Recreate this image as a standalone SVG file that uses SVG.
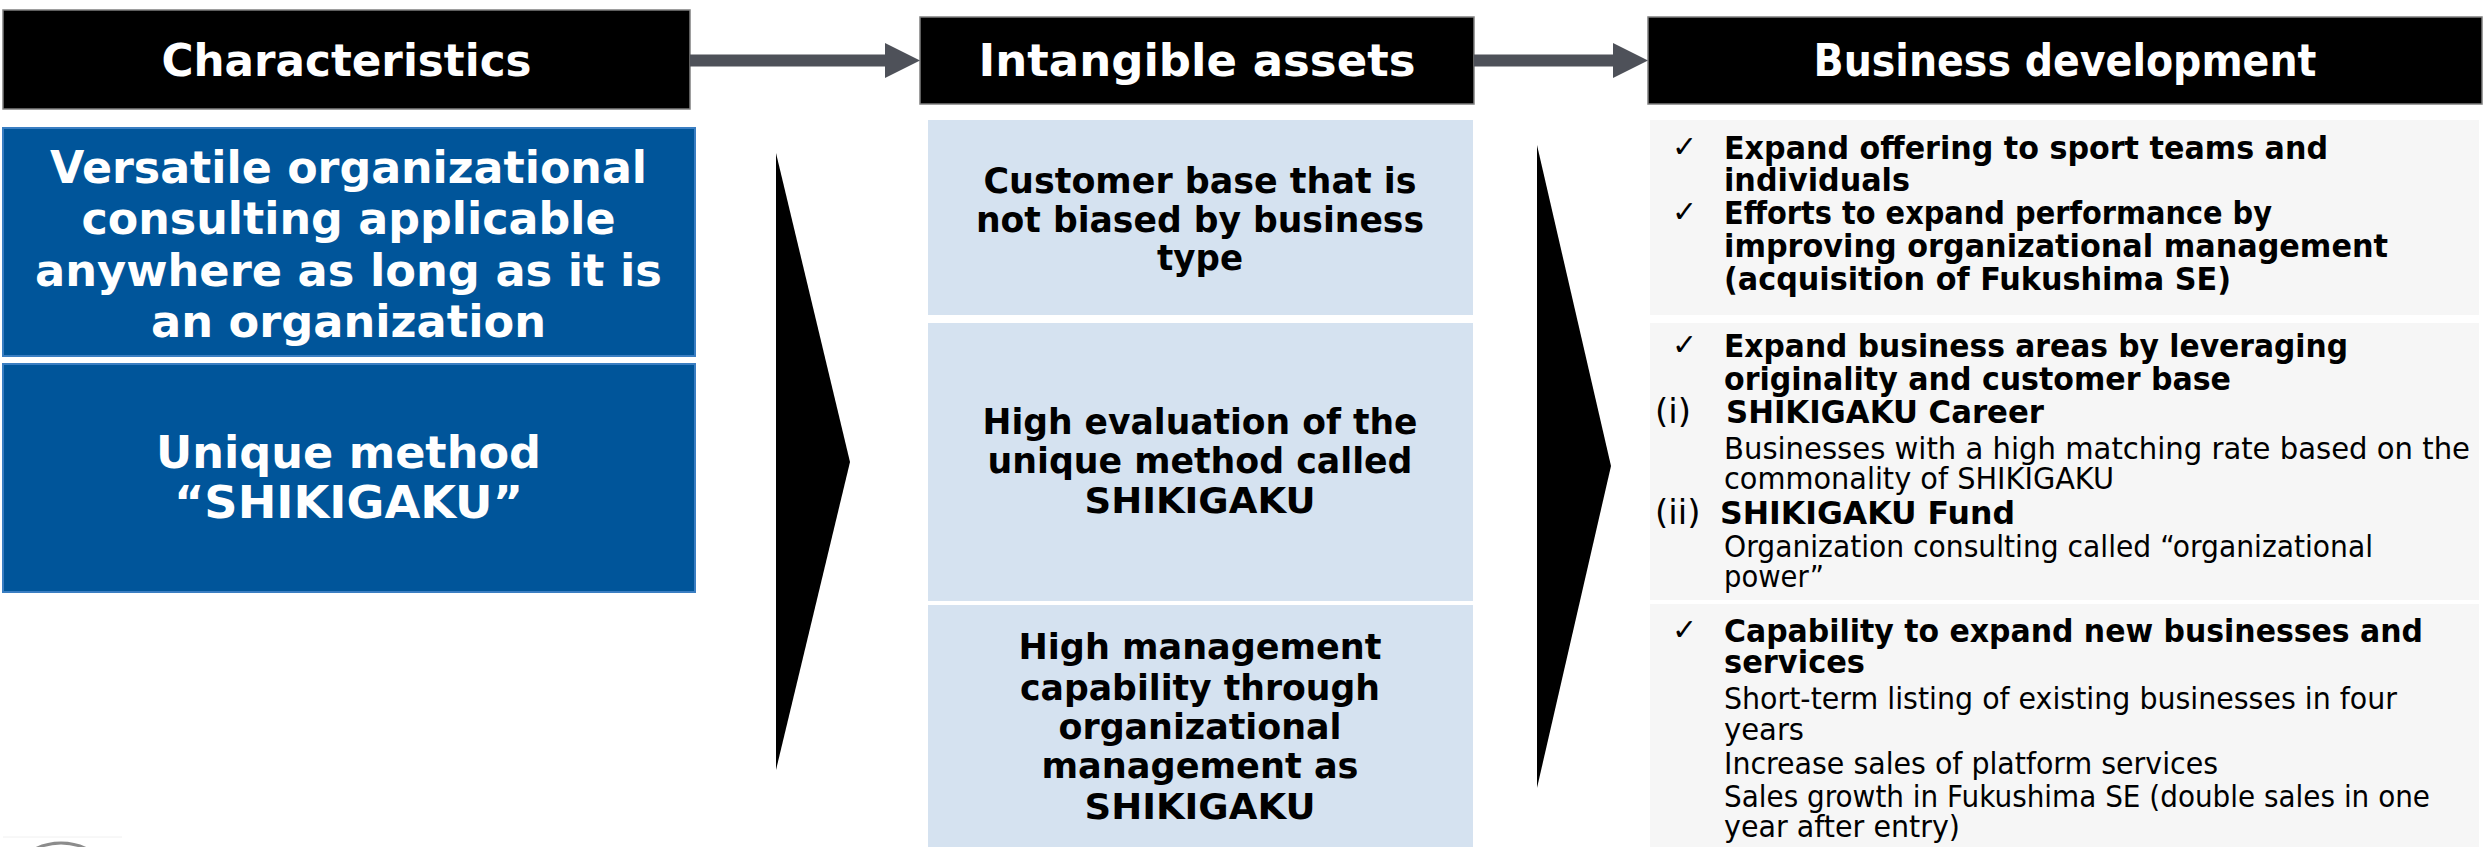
<svg xmlns="http://www.w3.org/2000/svg" width="2488" height="847" viewBox="0 0 2488 847">
<defs>
<style>
text{font-family:"DejaVu Sans",Verdana,"Liberation Sans",sans-serif;}
.hdr{fill:#000;stroke:#7f7f7f;stroke-width:1.5;}
.ht{fill:#fff;font-weight:bold;font-size:44px;text-anchor:middle;}
.blue{fill:#00559A;stroke:#3A7EC2;stroke-width:2;}
.bt{fill:#fff;font-weight:bold;font-size:45px;text-anchor:middle;}
.lb{fill:#D5E2F0;}
.it{fill:#000;font-weight:bold;font-size:35px;text-anchor:middle;}
.gp{fill:#F6F6F6;}
.pb{fill:#000;font-weight:bold;font-size:32px;}
.pr{fill:#000;font-size:31px;}
.pn{fill:#000;font-size:34px;}
.ck{fill:#000;font-size:30px;}
.conn{stroke:#4E5159;stroke-width:12;fill:none;}
.chev{fill:#000;}
</style>
<marker id="ah" markerUnits="userSpaceOnUse" markerWidth="36" markerHeight="36" refX="0" refY="17.5" orient="auto">
<path d="M0,0 L35,17.5 L0,35 Z" fill="#4E5159"/>
</marker>
</defs>
<rect width="2488" height="847" fill="#fff"/>

<g id="header-characteristics">
<rect class="hdr" x="3" y="10" width="687" height="99"/>
<text class="ht" x="346.5" y="76" textLength="370" lengthAdjust="spacingAndGlyphs">Characteristics</text>
</g>
<g id="header-intangible">
<rect class="hdr" x="920" y="17" width="554" height="87"/>
<text class="ht" x="1197" y="76" textLength="437" lengthAdjust="spacingAndGlyphs">Intangible assets</text>
</g>
<g id="header-business">
<rect class="hdr" x="1648" y="17" width="834" height="87"/>
<text class="ht" x="2065" y="76" textLength="503" lengthAdjust="spacingAndGlyphs">Business development</text>
</g>

<g id="char-versatile">
<rect class="blue" x="3" y="128" width="692" height="228"/>
<text class="bt" x="348.5" y="182.5" textLength="597" lengthAdjust="spacingAndGlyphs">Versatile organizational</text>
<text class="bt" x="348.5" y="234" textLength="534" lengthAdjust="spacingAndGlyphs">consulting applicable</text>
<text class="bt" x="348.5" y="285.5" textLength="627" lengthAdjust="spacingAndGlyphs">anywhere as long as it is</text>
<text class="bt" x="348.5" y="337" textLength="395" lengthAdjust="spacingAndGlyphs">an organization</text>
</g>
<g id="char-unique">
<rect class="blue" x="3" y="364" width="692" height="228"/>
<text class="bt" x="348.5" y="468" textLength="385" lengthAdjust="spacingAndGlyphs">Unique method</text>
<text class="bt" x="348.5" y="518" textLength="349" lengthAdjust="spacingAndGlyphs">“SHIKIGAKU”</text>
</g>

<g id="asset-customer">
<rect class="lb" x="928" y="120" width="545" height="195"/>
<text class="it" x="1200" y="193" textLength="433" lengthAdjust="spacingAndGlyphs">Customer base that is</text>
<text class="it" x="1200" y="232" textLength="448" lengthAdjust="spacingAndGlyphs">not biased by business</text>
<text class="it" x="1200" y="270" textLength="86" lengthAdjust="spacingAndGlyphs">type</text>
</g>
<g id="asset-evaluation">
<rect class="lb" x="928" y="323" width="545" height="278"/>
<text class="it" x="1200" y="434" textLength="435" lengthAdjust="spacingAndGlyphs">High evaluation of the</text>
<text class="it" x="1200" y="473" textLength="425" lengthAdjust="spacingAndGlyphs">unique method called</text>
<text class="it" x="1200" y="513" textLength="231" lengthAdjust="spacingAndGlyphs">SHIKIGAKU</text>
</g>
<g id="asset-management">
<rect class="lb" x="928" y="605" width="545" height="245"/>
<text class="it" x="1200" y="659" textLength="363" lengthAdjust="spacingAndGlyphs">High management</text>
<text class="it" x="1200" y="700" textLength="360" lengthAdjust="spacingAndGlyphs">capability through</text>
<text class="it" x="1200" y="739" textLength="283" lengthAdjust="spacingAndGlyphs">organizational</text>
<text class="it" x="1200" y="778" textLength="317" lengthAdjust="spacingAndGlyphs">management as</text>
<text class="it" x="1200" y="819" textLength="231" lengthAdjust="spacingAndGlyphs">SHIKIGAKU</text>
</g>

<g id="biz-expand-offering">
<rect class="gp" x="1650" y="120" width="829" height="195"/>
<text class="ck" x="1672" y="157">✓</text>
<text class="pb" x="1724" y="159" textLength="604" lengthAdjust="spacingAndGlyphs">Expand offering to sport teams and</text>
<text class="pb" x="1724" y="191" textLength="186" lengthAdjust="spacingAndGlyphs">individuals</text>
<text class="ck" x="1672" y="222">✓</text>
<text class="pb" x="1724" y="224" textLength="548" lengthAdjust="spacingAndGlyphs">Efforts to expand performance by</text>
<text class="pb" x="1724" y="257" textLength="664" lengthAdjust="spacingAndGlyphs">improving organizational management</text>
<text class="pb" x="1724" y="290" textLength="507" lengthAdjust="spacingAndGlyphs">(acquisition of Fukushima SE)</text>
</g>
<g id="biz-expand-areas">
<rect class="gp" x="1650" y="323" width="829" height="277"/>
<text class="ck" x="1672" y="355">✓</text>
<text class="pb" x="1724" y="357" textLength="624" lengthAdjust="spacingAndGlyphs">Expand business areas by leveraging</text>
<text class="pb" x="1724" y="390" textLength="507" lengthAdjust="spacingAndGlyphs">originality and customer base</text>
<text class="pn" x="1655" y="423">(i)</text>
<text class="pb" x="1726" y="423" textLength="318" lengthAdjust="spacingAndGlyphs">SHIKIGAKU Career</text>
<text class="pr" x="1724" y="459" textLength="746" lengthAdjust="spacingAndGlyphs">Businesses with a high matching rate based on the</text>
<text class="pr" x="1724" y="489" textLength="390" lengthAdjust="spacingAndGlyphs">commonality of SHIKIGAKU</text>
<text class="pn" x="1655" y="524">(ii)</text>
<text class="pb" x="1720" y="524" textLength="295" lengthAdjust="spacingAndGlyphs">SHIKIGAKU Fund</text>
<text class="pr" x="1724" y="557" textLength="649" lengthAdjust="spacingAndGlyphs">Organization consulting called “organizational</text>
<text class="pr" x="1724" y="587" textLength="100" lengthAdjust="spacingAndGlyphs">power”</text>
</g>
<g id="biz-capability">
<rect class="gp" x="1650" y="604" width="829" height="243"/>
<text class="ck" x="1672" y="640">✓</text>
<text class="pb" x="1724" y="642" textLength="699" lengthAdjust="spacingAndGlyphs">Capability to expand new businesses and</text>
<text class="pb" x="1724" y="673" textLength="141" lengthAdjust="spacingAndGlyphs">services</text>
<text class="pr" x="1724" y="709" textLength="673" lengthAdjust="spacingAndGlyphs">Short-term listing of existing businesses in four</text>
<text class="pr" x="1724" y="740" textLength="80" lengthAdjust="spacingAndGlyphs">years</text>
<text class="pr" x="1724" y="774" textLength="494" lengthAdjust="spacingAndGlyphs">Increase sales of platform services</text>
<text class="pr" x="1724" y="807" textLength="706" lengthAdjust="spacingAndGlyphs">Sales growth in Fukushima SE (double sales in one</text>
<text class="pr" x="1724" y="837" textLength="236" lengthAdjust="spacingAndGlyphs">year after entry)</text>
</g>

<g id="connectors">
<line class="conn" x1="690" y1="60.5" x2="885" y2="60.5" marker-end="url(#ah)"/>
<line class="conn" x1="1474" y1="60.5" x2="1613" y2="60.5" marker-end="url(#ah)"/>
<polygon class="chev" points="776,153 850,462 776,770"/>
<polygon class="chev" points="1537,145 1611,466 1537,788"/>
</g>

<g id="logo-fragment">
<line x1="3" y1="837" x2="122" y2="837" stroke="#f0f0f0" stroke-width="1"/>
<circle cx="61" cy="900" r="57" fill="none" stroke="#8c8c8c" stroke-width="3"/>
</g>
</svg>
